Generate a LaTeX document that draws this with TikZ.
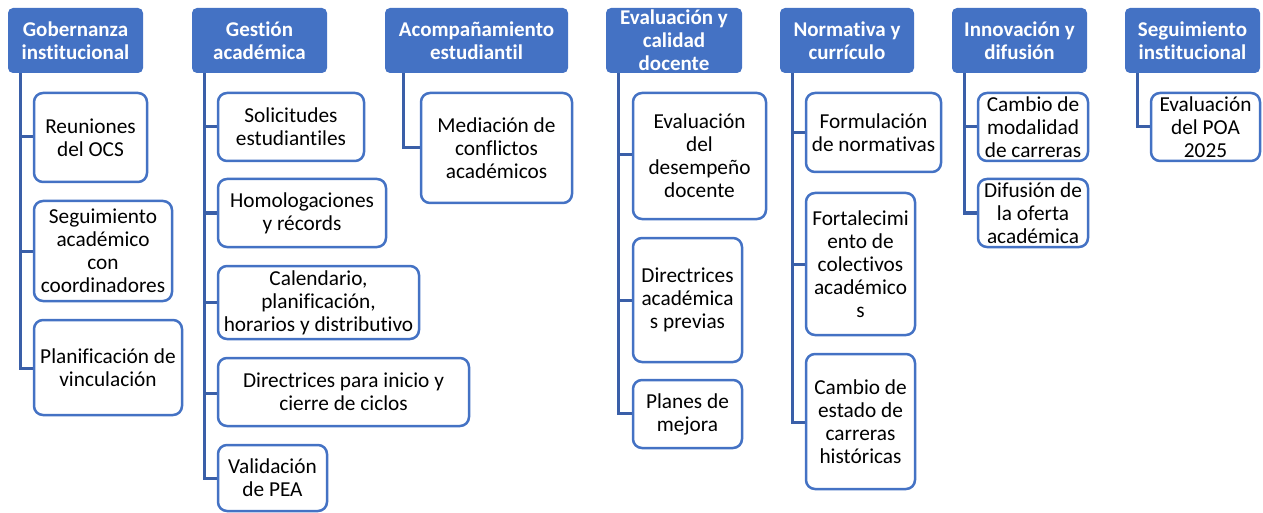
\documentclass[tikz,border=0pt]{standalone}
\usepackage{fontspec}
\setmainfont[Ligatures=NoCommon]{Carlito}
\definecolor{hdrblue}{HTML}{4472C4}
\definecolor{linkblue}{HTML}{3A5FA8}
\tikzset{
  hdr/.style={fill=hdrblue, draw=none, rounded corners=5pt, text=white,
    font=\fontsize{21}{23}\selectfont\bfseries, align=center, inner sep=0pt},
  item/.style={draw=hdrblue, line width=2.5pt, fill=white, rounded corners=9pt,
    font=\fontsize{21.3}{23}\selectfont, align=center, inner sep=0pt},
  link/.style={draw=linkblue, line width=3pt},
}
\newcommand{\mybox}[7]{%
  \pgfmathsetmacro{\bxcx}{(#3+#5)/2}%
  \pgfmathsetmacro{\bxcy}{(#4+#6)/2}%
  \pgfmathsetmacro{\bxw}{#5-#3}%
  \pgfmathsetmacro{\bxh}{#6-#4}%
  \node[#1, minimum width=\bxw pt, minimum height=\bxh pt] (#2) at (\bxcx,\bxcy) {#7};}
\begin{document}
\begin{tikzpicture}[x=1pt,y=-1pt]
\useasboundingbox (0,0) rectangle (1263,513);
% trunks
\coordinate (t1) at (20,0);
\coordinate (t2) at (204,0);
\coordinate (t3) at (403,0);
\coordinate (t4) at (618,0);
\coordinate (t5) at (792,0);
\coordinate (t6) at (964,0);
\coordinate (t7) at (1137,0);
% headers
\mybox{hdr}{h1}{8}{8}{143}{73}{Gobernanza\\institucional}
\mybox{hdr}{h2}{192}{8}{327}{73}{Gestión\\académica}
\mybox{hdr}{h3}{385}{8}{568}{73}{Acompañamiento\\estudiantil}
\mybox{hdr}{h4}{606}{8}{742}{73}{Evaluación y\\calidad\\docente}
\mybox{hdr}{h5}{780}{8}{914}{73}{Normativa y\\currículo}
\mybox{hdr}{h6}{952}{8}{1087}{73}{Innovación y\\difusión}
\mybox{hdr}{h7}{1125}{8}{1260}{73}{Seguimiento\\institucional}
% connectors (drawn first, boxes on top)
\begin{scope}
\draw[link] (h1.south -| t1) |- (34,137) coordinate (e11);
\draw[link] (h1.south -| t1) |- (34,251) coordinate (e12);
\draw[link] (h1.south -| t1) |- (34,368) coordinate (e13);
\draw[link] (h2.south -| t2) |- (218,127) coordinate (e21);
\draw[link] (h2.south -| t2) |- (218,213) coordinate (e22);
\draw[link] (h2.south -| t2) |- (218,302) coordinate (e23);
\draw[link] (h2.south -| t2) |- (218,393) coordinate (e24);
\draw[link] (h2.south -| t2) |- (218,478) coordinate (e25);
\draw[link] (h3.south -| t3) |- (421,148) coordinate (e31);
\draw[link] (h4.south -| t4) |- (633,155) coordinate (e41);
\draw[link] (h4.south -| t4) |- (633,300) coordinate (e42);
\draw[link] (h4.south -| t4) |- (633,413) coordinate (e43);
\draw[link] (h5.south -| t5) |- (806,133) coordinate (e51);
\draw[link] (h5.south -| t5) |- (806,264) coordinate (e52);
\draw[link] (h5.south -| t5) |- (806,422) coordinate (e53);
\draw[link] (h6.south -| t6) |- (978,127) coordinate (e61);
\draw[link] (h6.south -| t6) |- (978,213) coordinate (e62);
\draw[link] (h7.south -| t7) |- (1151,127) coordinate (e71);
\end{scope}
% items
\mybox{item}{a11}{34}{93}{147}{182}{Reuniones\\del OCS}
\mybox{item}{a12}{34}{201}{172}{301}{Seguimiento\\académico\\con\\coordinadores}
\mybox{item}{a13}{34}{320}{182}{415}{Planificación de\\vinculación}
\mybox{item}{a21}{218}{93}{364}{161}{Solicitudes\\estudiantiles}
\mybox{item}{a22}{218}{179}{386}{247}{Homologaciones\\y récords}
\mybox{item}{a23}{218}{266}{419}{339}{Calendario,\\planificación,\\horarios y distributivo}
\mybox{item}{a24}{218}{358}{469}{426}{Directrices para inicio y\\cierre de ciclos}
\mybox{item}{a25}{218}{445}{327}{511}{Validación\\de PEA}
\mybox{item}{a31}{421}{93}{572}{203}{Mediación de\\conflictos\\académicos}
\mybox{item}{a41}{633}{93}{766}{219}{Evaluación\\del\\desempeño\\docente}
\mybox{item}{a42}{633}{238}{742}{362}{Directrices\\académica\\s previas}
\mybox{item}{a43}{633}{380}{742}{448}{Planes de\\mejora}
\mybox{item}{a51}{806}{93}{941}{172}{Formulación\\de normativas}
\mybox{item}{a52}{806}{193}{915}{335}{Fortalecimi\\ento de\\colectivos\\académico\\s}
\mybox{item}{a53}{806}{354}{915}{489}{Cambio de\\estado de\\carreras\\históricas}
\mybox{item}{a61}{978}{93}{1088}{161}{Cambio de\\modalidad\\de carreras}
\mybox{item}{a62}{978}{179}{1088}{247}{Difusión de\\la oferta\\académica}
\mybox{item}{a71}{1151}{93}{1260}{161}{Evaluación\\del POA\\2025}
\end{tikzpicture}
\end{document}
